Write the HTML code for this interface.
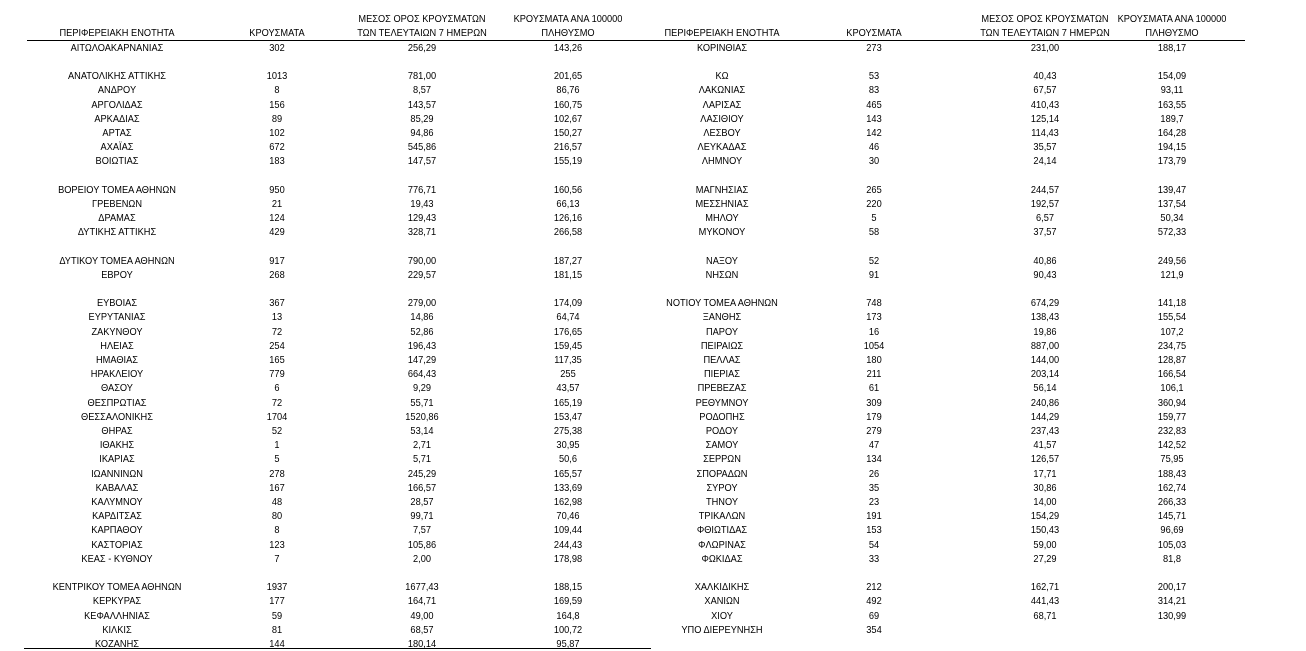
<!DOCTYPE html>
<html><head><meta charset="utf-8">
<style>
body{margin:0;background:#fff;width:1306px;height:650px;overflow:hidden;position:relative;font-family:"Liberation Sans","DejaVu Sans",sans-serif;color:#000}
#w{position:absolute;left:0;top:1px;width:1306px;height:648px}
.r{position:absolute;left:0;width:1306px;height:14px}
.r span{position:absolute;top:0;width:240px;text-align:center;font-size:10.5px;line-height:14px;transform:scaleX(0.88);white-space:nowrap}
.a{left:-3px}.b{left:157px}.c{left:302px}.d{left:448px}
.e{left:602px}.f{left:754px}.g{left:925px}.h{left:1052px}
.ln{position:absolute;height:1.4px;background:#000}
</style></head><body>
<div class="ln" style="left:27px;top:40px;width:1218px"></div>
<div class="ln" style="left:24px;top:648px;width:627px"></div>
<div id="w">
<div class="r" style="top:11px"><span class="c">ΜΕΣΟΣ ΟΡΟΣ ΚΡΟΥΣΜΑΤΩΝ</span><span class="d">ΚΡΟΥΣΜΑΤΑ ΑΝΑ 100000</span><span class="g">ΜΕΣΟΣ ΟΡΟΣ ΚΡΟΥΣΜΑΤΩΝ</span><span class="h">ΚΡΟΥΣΜΑΤΑ ΑΝΑ 100000</span></div>
<div class="r" style="top:25px"><span class="a">ΠΕΡΙΦΕΡΕΙΑΚΗ ΕΝΟΤΗΤΑ</span><span class="b">ΚΡΟΥΣΜΑΤΑ</span><span class="c">ΤΩΝ ΤΕΛΕΥΤΑΙΩΝ 7 ΗΜΕΡΩΝ</span><span class="d">ΠΛΗΘΥΣΜΟ</span><span class="e">ΠΕΡΙΦΕΡΕΙΑΚΗ ΕΝΟΤΗΤΑ</span><span class="f">ΚΡΟΥΣΜΑΤΑ</span><span class="g">ΤΩΝ ΤΕΛΕΥΤΑΙΩΝ 7 ΗΜΕΡΩΝ</span><span class="h">ΠΛΗΘΥΣΜΟ</span></div>
<div class="r" style="top:40px"><span class="a">ΑΙΤΩΛΟΑΚΑΡΝΑΝΙΑΣ</span><span class="b">302</span><span class="c">256,29</span><span class="d">143,26</span><span class="e">ΚΟΡΙΝΘΙΑΣ</span><span class="f">273</span><span class="g">231,00</span><span class="h">188,17</span></div>
<div class="r" style="top:68px"><span class="a">ΑΝΑΤΟΛΙΚΗΣ ΑΤΤΙΚΗΣ</span><span class="b">1013</span><span class="c">781,00</span><span class="d">201,65</span><span class="e">ΚΩ</span><span class="f">53</span><span class="g">40,43</span><span class="h">154,09</span></div>
<div class="r" style="top:82px"><span class="a">ΑΝΔΡΟΥ</span><span class="b">8</span><span class="c">8,57</span><span class="d">86,76</span><span class="e">ΛΑΚΩΝΙΑΣ</span><span class="f">83</span><span class="g">67,57</span><span class="h">93,11</span></div>
<div class="r" style="top:97px"><span class="a">ΑΡΓΟΛΙΔΑΣ</span><span class="b">156</span><span class="c">143,57</span><span class="d">160,75</span><span class="e">ΛΑΡΙΣΑΣ</span><span class="f">465</span><span class="g">410,43</span><span class="h">163,55</span></div>
<div class="r" style="top:111px"><span class="a">ΑΡΚΑΔΙΑΣ</span><span class="b">89</span><span class="c">85,29</span><span class="d">102,67</span><span class="e">ΛΑΣΙΘΙΟΥ</span><span class="f">143</span><span class="g">125,14</span><span class="h">189,7</span></div>
<div class="r" style="top:125px"><span class="a">ΑΡΤΑΣ</span><span class="b">102</span><span class="c">94,86</span><span class="d">150,27</span><span class="e">ΛΕΣΒΟΥ</span><span class="f">142</span><span class="g">114,43</span><span class="h">164,28</span></div>
<div class="r" style="top:139px"><span class="a">ΑΧΑΪΑΣ</span><span class="b">672</span><span class="c">545,86</span><span class="d">216,57</span><span class="e">ΛΕΥΚΑΔΑΣ</span><span class="f">46</span><span class="g">35,57</span><span class="h">194,15</span></div>
<div class="r" style="top:153px"><span class="a">ΒΟΙΩΤΙΑΣ</span><span class="b">183</span><span class="c">147,57</span><span class="d">155,19</span><span class="e">ΛΗΜΝΟΥ</span><span class="f">30</span><span class="g">24,14</span><span class="h">173,79</span></div>
<div class="r" style="top:182px"><span class="a">ΒΟΡΕΙΟΥ ΤΟΜΕΑ ΑΘΗΝΩΝ</span><span class="b">950</span><span class="c">776,71</span><span class="d">160,56</span><span class="e">ΜΑΓΝΗΣΙΑΣ</span><span class="f">265</span><span class="g">244,57</span><span class="h">139,47</span></div>
<div class="r" style="top:196px"><span class="a">ΓΡΕΒΕΝΩΝ</span><span class="b">21</span><span class="c">19,43</span><span class="d">66,13</span><span class="e">ΜΕΣΣΗΝΙΑΣ</span><span class="f">220</span><span class="g">192,57</span><span class="h">137,54</span></div>
<div class="r" style="top:210px"><span class="a">ΔΡΑΜΑΣ</span><span class="b">124</span><span class="c">129,43</span><span class="d">126,16</span><span class="e">ΜΗΛΟΥ</span><span class="f">5</span><span class="g">6,57</span><span class="h">50,34</span></div>
<div class="r" style="top:224px"><span class="a">ΔΥΤΙΚΗΣ ΑΤΤΙΚΗΣ</span><span class="b">429</span><span class="c">328,71</span><span class="d">266,58</span><span class="e">ΜΥΚΟΝΟΥ</span><span class="f">58</span><span class="g">37,57</span><span class="h">572,33</span></div>
<div class="r" style="top:253px"><span class="a">ΔΥΤΙΚΟΥ ΤΟΜΕΑ ΑΘΗΝΩΝ</span><span class="b">917</span><span class="c">790,00</span><span class="d">187,27</span><span class="e">ΝΑΞΟΥ</span><span class="f">52</span><span class="g">40,86</span><span class="h">249,56</span></div>
<div class="r" style="top:267px"><span class="a">ΕΒΡΟΥ</span><span class="b">268</span><span class="c">229,57</span><span class="d">181,15</span><span class="e">ΝΗΣΩΝ</span><span class="f">91</span><span class="g">90,43</span><span class="h">121,9</span></div>
<div class="r" style="top:295px"><span class="a">ΕΥΒΟΙΑΣ</span><span class="b">367</span><span class="c">279,00</span><span class="d">174,09</span><span class="e">ΝΟΤΙΟΥ ΤΟΜΕΑ ΑΘΗΝΩΝ</span><span class="f">748</span><span class="g">674,29</span><span class="h">141,18</span></div>
<div class="r" style="top:309px"><span class="a">ΕΥΡΥΤΑΝΙΑΣ</span><span class="b">13</span><span class="c">14,86</span><span class="d">64,74</span><span class="e">ΞΑΝΘΗΣ</span><span class="f">173</span><span class="g">138,43</span><span class="h">155,54</span></div>
<div class="r" style="top:324px"><span class="a">ΖΑΚΥΝΘΟΥ</span><span class="b">72</span><span class="c">52,86</span><span class="d">176,65</span><span class="e">ΠΑΡΟΥ</span><span class="f">16</span><span class="g">19,86</span><span class="h">107,2</span></div>
<div class="r" style="top:338px"><span class="a">ΗΛΕΙΑΣ</span><span class="b">254</span><span class="c">196,43</span><span class="d">159,45</span><span class="e">ΠΕΙΡΑΙΩΣ</span><span class="f">1054</span><span class="g">887,00</span><span class="h">234,75</span></div>
<div class="r" style="top:352px"><span class="a">ΗΜΑΘΙΑΣ</span><span class="b">165</span><span class="c">147,29</span><span class="d">117,35</span><span class="e">ΠΕΛΛΑΣ</span><span class="f">180</span><span class="g">144,00</span><span class="h">128,87</span></div>
<div class="r" style="top:366px"><span class="a">ΗΡΑΚΛΕΙΟΥ</span><span class="b">779</span><span class="c">664,43</span><span class="d">255</span><span class="e">ΠΙΕΡΙΑΣ</span><span class="f">211</span><span class="g">203,14</span><span class="h">166,54</span></div>
<div class="r" style="top:380px"><span class="a">ΘΑΣΟΥ</span><span class="b">6</span><span class="c">9,29</span><span class="d">43,57</span><span class="e">ΠΡΕΒΕΖΑΣ</span><span class="f">61</span><span class="g">56,14</span><span class="h">106,1</span></div>
<div class="r" style="top:395px"><span class="a">ΘΕΣΠΡΩΤΙΑΣ</span><span class="b">72</span><span class="c">55,71</span><span class="d">165,19</span><span class="e">ΡΕΘΥΜΝΟΥ</span><span class="f">309</span><span class="g">240,86</span><span class="h">360,94</span></div>
<div class="r" style="top:409px"><span class="a">ΘΕΣΣΑΛΟΝΙΚΗΣ</span><span class="b">1704</span><span class="c">1520,86</span><span class="d">153,47</span><span class="e">ΡΟΔΟΠΗΣ</span><span class="f">179</span><span class="g">144,29</span><span class="h">159,77</span></div>
<div class="r" style="top:423px"><span class="a">ΘΗΡΑΣ</span><span class="b">52</span><span class="c">53,14</span><span class="d">275,38</span><span class="e">ΡΟΔΟΥ</span><span class="f">279</span><span class="g">237,43</span><span class="h">232,83</span></div>
<div class="r" style="top:437px"><span class="a">ΙΘΑΚΗΣ</span><span class="b">1</span><span class="c">2,71</span><span class="d">30,95</span><span class="e">ΣΑΜΟΥ</span><span class="f">47</span><span class="g">41,57</span><span class="h">142,52</span></div>
<div class="r" style="top:451px"><span class="a">ΙΚΑΡΙΑΣ</span><span class="b">5</span><span class="c">5,71</span><span class="d">50,6</span><span class="e">ΣΕΡΡΩΝ</span><span class="f">134</span><span class="g">126,57</span><span class="h">75,95</span></div>
<div class="r" style="top:466px"><span class="a">ΙΩΑΝΝΙΝΩΝ</span><span class="b">278</span><span class="c">245,29</span><span class="d">165,57</span><span class="e">ΣΠΟΡΑΔΩΝ</span><span class="f">26</span><span class="g">17,71</span><span class="h">188,43</span></div>
<div class="r" style="top:480px"><span class="a">ΚΑΒΑΛΑΣ</span><span class="b">167</span><span class="c">166,57</span><span class="d">133,69</span><span class="e">ΣΥΡΟΥ</span><span class="f">35</span><span class="g">30,86</span><span class="h">162,74</span></div>
<div class="r" style="top:494px"><span class="a">ΚΑΛΥΜΝΟΥ</span><span class="b">48</span><span class="c">28,57</span><span class="d">162,98</span><span class="e">ΤΗΝΟΥ</span><span class="f">23</span><span class="g">14,00</span><span class="h">266,33</span></div>
<div class="r" style="top:508px"><span class="a">ΚΑΡΔΙΤΣΑΣ</span><span class="b">80</span><span class="c">99,71</span><span class="d">70,46</span><span class="e">ΤΡΙΚΑΛΩΝ</span><span class="f">191</span><span class="g">154,29</span><span class="h">145,71</span></div>
<div class="r" style="top:522px"><span class="a">ΚΑΡΠΑΘΟΥ</span><span class="b">8</span><span class="c">7,57</span><span class="d">109,44</span><span class="e">ΦΘΙΩΤΙΔΑΣ</span><span class="f">153</span><span class="g">150,43</span><span class="h">96,69</span></div>
<div class="r" style="top:537px"><span class="a">ΚΑΣΤΟΡΙΑΣ</span><span class="b">123</span><span class="c">105,86</span><span class="d">244,43</span><span class="e">ΦΛΩΡΙΝΑΣ</span><span class="f">54</span><span class="g">59,00</span><span class="h">105,03</span></div>
<div class="r" style="top:551px"><span class="a">ΚΕΑΣ - ΚΥΘΝΟΥ</span><span class="b">7</span><span class="c">2,00</span><span class="d">178,98</span><span class="e">ΦΩΚΙΔΑΣ</span><span class="f">33</span><span class="g">27,29</span><span class="h">81,8</span></div>
<div class="r" style="top:579px"><span class="a">ΚΕΝΤΡΙΚΟΥ ΤΟΜΕΑ ΑΘΗΝΩΝ</span><span class="b">1937</span><span class="c">1677,43</span><span class="d">188,15</span><span class="e">ΧΑΛΚΙΔΙΚΗΣ</span><span class="f">212</span><span class="g">162,71</span><span class="h">200,17</span></div>
<div class="r" style="top:593px"><span class="a">ΚΕΡΚΥΡΑΣ</span><span class="b">177</span><span class="c">164,71</span><span class="d">169,59</span><span class="e">ΧΑΝΙΩΝ</span><span class="f">492</span><span class="g">441,43</span><span class="h">314,21</span></div>
<div class="r" style="top:608px"><span class="a">ΚΕΦΑΛΛΗΝΙΑΣ</span><span class="b">59</span><span class="c">49,00</span><span class="d">164,8</span><span class="e">ΧΙΟΥ</span><span class="f">69</span><span class="g">68,71</span><span class="h">130,99</span></div>
<div class="r" style="top:622px"><span class="a">ΚΙΛΚΙΣ</span><span class="b">81</span><span class="c">68,57</span><span class="d">100,72</span><span class="e">ΥΠΟ ΔΙΕΡΕΥΝΗΣΗ</span><span class="f">354</span></div>
<div class="r" style="top:636px"><span class="a">ΚΟΖΑΝΗΣ</span><span class="b">144</span><span class="c">180,14</span><span class="d">95,87</span></div>
</div>
</body></html>
